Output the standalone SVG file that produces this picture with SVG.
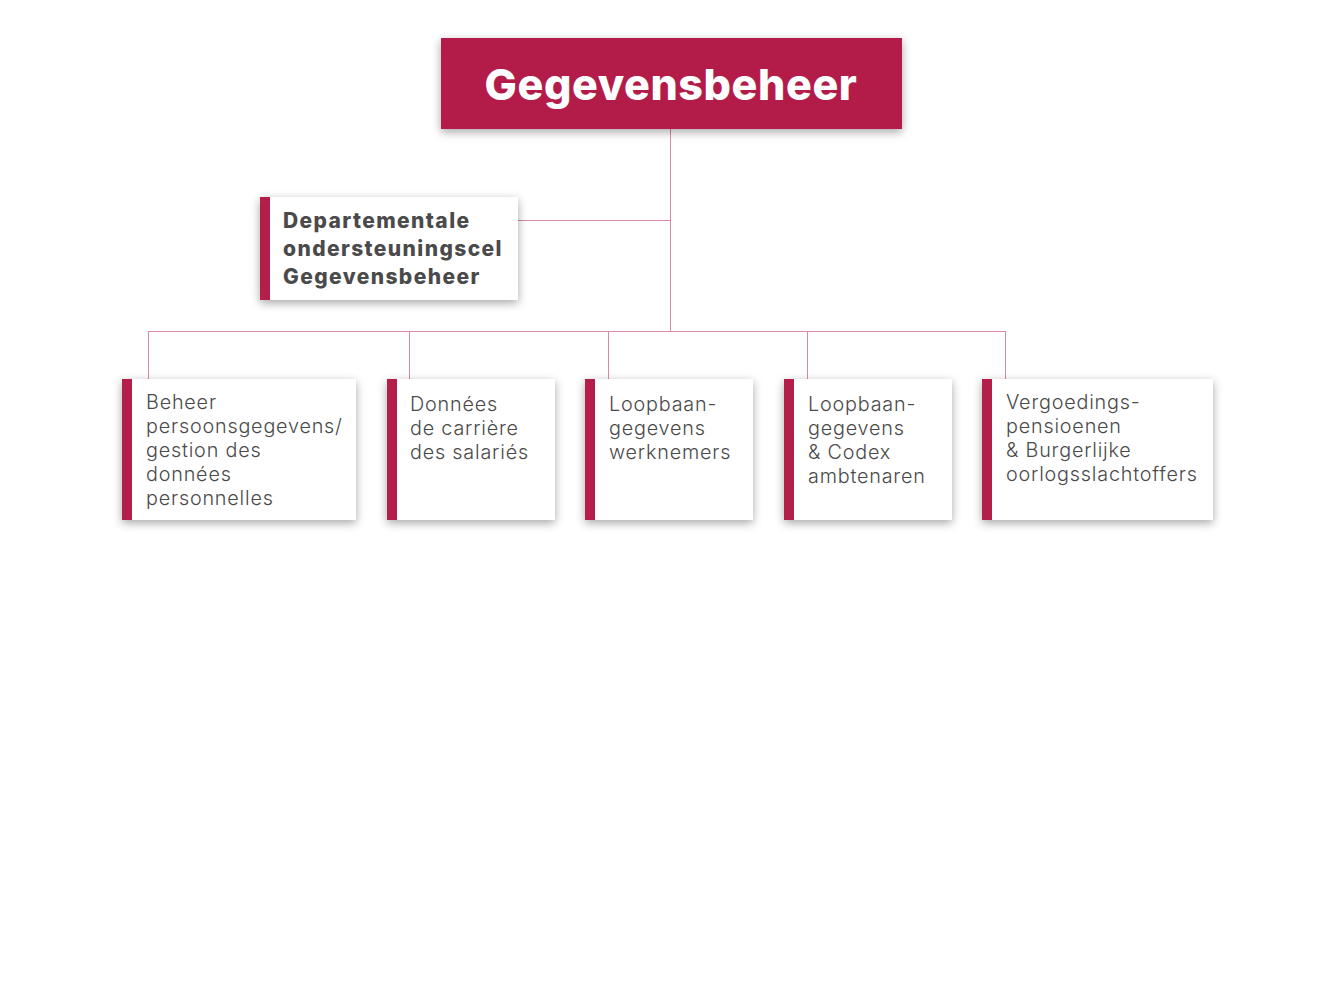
<svg xmlns="http://www.w3.org/2000/svg" width="1344" height="1008" viewBox="0 0 1344 1008">
<style>
.conn{stroke:#d98aa8;stroke-width:1;fill:none}
.card{fill:#ffffff}
.bar{fill:#b31f4a}
.title{font-family:Inter,"Open Sans",sans-serif;font-weight:800;font-size:43px;letter-spacing:0.6px;fill:#ffffff}
.dept{font-family:Inter,"Open Sans",sans-serif;font-weight:800;font-size:21px;letter-spacing:1.4px;fill:#4a4a4a}
.lbl{font-family:Inter,"Open Sans",sans-serif;font-weight:300;font-size:19.8px;letter-spacing:0.8px;fill:#4a4a4a}
</style>
<defs>
<filter id="sh" x="-20%" y="-30%" width="140%" height="160%">
<feDropShadow dx="0" dy="3" stdDeviation="5" flood-color="#000" flood-opacity="0.35"/>
</filter>
</defs>
<rect width="1344" height="1008" fill="#ffffff"/>
<g id="connectors">
<line class="conn" x1="670.5" y1="129" x2="670.5" y2="331"/>
<line class="conn" x1="518" y1="220.5" x2="670.5" y2="220.5"/>
<line class="conn" x1="148.5" y1="331.5" x2="1005.5" y2="331.5"/>
<line class="conn" x1="148.5" y1="331" x2="148.5" y2="379"/>
<line class="conn" x1="409.5" y1="331" x2="409.5" y2="379"/>
<line class="conn" x1="608.5" y1="331" x2="608.5" y2="379"/>
<line class="conn" x1="807.5" y1="331" x2="807.5" y2="379"/>
<line class="conn" x1="1005.5" y1="331" x2="1005.5" y2="379"/>
</g>
<g id="root">
<rect x="441" y="38" width="461" height="91" fill="#b31f4a" filter="url(#sh)"/>
<text class="title" x="671" y="100" text-anchor="middle">Gegevensbeheer</text>
</g>
<g id="dept">
<rect class="card" x="260" y="197" width="258" height="103" filter="url(#sh)"/>
<rect class="bar" x="260" y="197" width="10" height="103"/>
<text class="dept" x="283"><tspan x="283" y="228">Departementale</tspan><tspan x="283" y="256">ondersteuningscel</tspan><tspan x="283" y="284">Gegevensbeheer</tspan></text>
</g>
<g id="n1">
<rect class="card" x="122" y="379" width="234" height="141" filter="url(#sh)"/>
<rect class="bar" x="122" y="379" width="10" height="141"/>
<text class="lbl"><tspan x="146" y="409">Beheer</tspan><tspan x="146" y="433">persoonsgegevens/</tspan><tspan x="146" y="457">gestion des</tspan><tspan x="146" y="481">données</tspan><tspan x="146" y="505">personnelles</tspan></text>
</g>
<g id="n2">
<rect class="card" x="387" y="379" width="168" height="141" filter="url(#sh)"/>
<rect class="bar" x="387" y="379" width="10" height="141"/>
<text class="lbl"><tspan x="410" y="411">Données</tspan><tspan x="410" y="435">de carrière</tspan><tspan x="410" y="459">des salariés</tspan></text>
</g>
<g id="n3">
<rect class="card" x="585" y="379" width="168" height="141" filter="url(#sh)"/>
<rect class="bar" x="585" y="379" width="10" height="141"/>
<text class="lbl"><tspan x="609" y="411">Loopbaan-</tspan><tspan x="609" y="435">gegevens</tspan><tspan x="609" y="459">werknemers</tspan></text>
</g>
<g id="n4">
<rect class="card" x="784" y="379" width="168" height="141" filter="url(#sh)"/>
<rect class="bar" x="784" y="379" width="10" height="141"/>
<text class="lbl"><tspan x="808" y="411">Loopbaan-</tspan><tspan x="808" y="435">gegevens</tspan><tspan x="808" y="459">&amp; Codex</tspan><tspan x="808" y="483">ambtenaren</tspan></text>
</g>
<g id="n5">
<rect class="card" x="982" y="379" width="231" height="141" filter="url(#sh)"/>
<rect class="bar" x="982" y="379" width="10" height="141"/>
<text class="lbl"><tspan x="1006" y="409">Vergoedings-</tspan><tspan x="1006" y="433">pensioenen</tspan><tspan x="1006" y="457">&amp; Burgerlijke</tspan><tspan x="1006" y="481">oorlogsslachtoffers</tspan></text>
</g>
</svg>
